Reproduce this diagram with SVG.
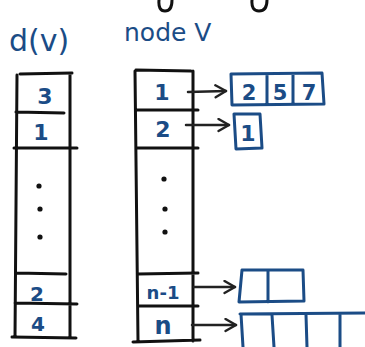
<svg xmlns="http://www.w3.org/2000/svg" width="365" height="347" viewBox="0 0 365 347">
  <style>
    .ink { fill: none; stroke: #111; stroke-width: 3; stroke-linecap: round; stroke-linejoin: round; }
    .blue { fill: none; stroke: #1b4c86; stroke-width: 3; stroke-linecap: round; stroke-linejoin: round; }
    .arrow { fill: none; stroke: #222; stroke-width: 2.5; stroke-linecap: round; stroke-linejoin: round; }
    .lbl { fill: #1b4c86; font-family: "DejaVu Sans", "Liberation Sans", sans-serif; text-anchor: middle; font-weight: bold; }
    .title { fill: #1b4c86; font-family: "DejaVu Sans", "Liberation Sans", sans-serif; }
    .dot { fill: #111; }
  </style>
  <defs>
    <marker id="head" viewBox="0 0 10 10" refX="8" refY="5" markerWidth="6" markerHeight="6" orient="auto" markerUnits="strokeWidth">
      <path d="M1 1 L8 5 L1 9" fill="none" stroke="#222" stroke-width="1.6" stroke-linecap="round" stroke-linejoin="round"/>
    </marker>
  </defs>
  <rect width="365" height="347" fill="#fff"/>

  <!-- pen strokes cut off at the top edge -->
  <path class="ink" d="M159 0 Q158 11 165 11 Q172 11 172 0"/>
  <path class="ink" d="M252 0 Q251 11 259 11 Q267 11 267 0"/>

  <!-- headings -->
  <text class="title" x="9" y="51" font-size="30">d(v)</text>
  <text class="title" x="124" y="41" font-size="25">node V</text>

  <!-- d(v) column -->
  <g id="d-column">
    <path class="ink" d="M17 75 L15 337 M70 74 L70 337 M20 74 L72 73 M16 112 L64 113 M14 148 L77 148 M16 273 L66 274 M15 303 L77 304 M12 337 L76 338"/>
    <text class="lbl" x="45" y="104" font-size="22">3</text>
    <text class="lbl" x="41" y="140" font-size="22">1</text>
    <circle class="dot" cx="39" cy="186" r="2.6"/>
    <circle class="dot" cx="40" cy="209" r="2.6"/>
    <circle class="dot" cx="40" cy="237" r="2.6"/>
    <text class="lbl" x="37" y="301" font-size="20">2</text>
    <text class="lbl" x="38" y="331" font-size="20">4</text>
  </g>

  <!-- node column -->
  <g id="node-column">
    <path class="ink" d="M135 71 L138 341 M193 71 L193 341 M136 70 L191 71 M137 110 L198 110 M137 148 L198 148 M138 274 L198 273 M138 306 L198 306 M133 342 L200 340"/>
    <text class="lbl" x="162" y="100" font-size="22">1</text>
    <text class="lbl" x="163" y="137" font-size="22">2</text>
    <circle class="dot" cx="164" cy="179" r="2.6"/>
    <circle class="dot" cx="165" cy="209" r="2.6"/>
    <circle class="dot" cx="165" cy="232" r="2.6"/>
    <text class="lbl" x="163" y="299" font-size="18">n-1</text>
    <text class="lbl" x="163" y="334" font-size="24">n</text>
  </g>

  <!-- adjacency lists -->
  <g id="list-1">
    <path class="blue" d="M231 74 L322 73 L324 104 L232 105 Z M267 74 L267 104 M293 74 L293 104"/>
    <text class="lbl" x="249" y="100" font-size="21">2</text>
    <text class="lbl" x="280" y="100" font-size="21">5</text>
    <text class="lbl" x="309" y="100" font-size="21">7</text>
  </g>
  <g id="list-2">
    <path class="blue" d="M234 114 L260 114 L262 148 L236 149 Z"/>
    <text class="lbl" x="248" y="141" font-size="22">1</text>
  </g>
  <g id="list-n-1">
    <path class="blue" d="M242 270 L303 270 L304 301 L239 302 Z M268 271 L268 302"/>
  </g>
  <g id="list-n">
    <path class="blue" d="M240 314 L365 313 M241 314 L243 347 M272 315 L274 347 M306 315 L307 347 M340 315 L340 347"/>
  </g>

  <!-- pointers from node slots to their lists -->
  <g id="connectors">
    <path class="arrow" marker-end="url(#head)" d="M188 92 L226 91"/>
    <path class="arrow" marker-end="url(#head)" d="M186 125 L229 125"/>
    <path class="arrow" marker-end="url(#head)" d="M194 287 L235 287"/>
    <path class="arrow" marker-end="url(#head)" d="M192 325 L236 325"/>
  </g>
</svg>
